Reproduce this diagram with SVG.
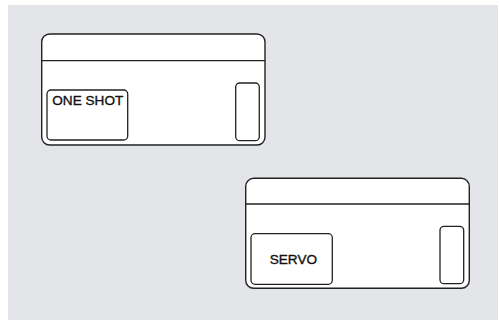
<svg xmlns="http://www.w3.org/2000/svg" width="499" height="320" viewBox="0 0 499 320">
<style>
.card{fill:#ffffff;stroke:#222;stroke-width:1.4}
.line{stroke:#222;stroke-width:1.3}
.box{fill:#ffffff;stroke:#222;stroke-width:1.3}
.lbl{font-family:"Liberation Sans",Arial,sans-serif;font-size:13.6px;fill:#111;stroke:#111;stroke-width:0.35}
</style>
<rect x="0" y="0" width="499" height="320" fill="#ffffff"/>
<rect x="8" y="5" width="490" height="315" fill="#e3e5e9"/>
<g id="card-oneshot">
<rect class="card" x="41.7" y="34" width="223.3" height="111" rx="8"/>
<line class="line" x1="41.7" y1="60.7" x2="265" y2="60.7"/>
<rect class="box" x="47" y="90" width="80.7" height="50" rx="4"/>
<text class="lbl" x="52.3" y="104.6">ONE SHOT</text>
<rect class="box" x="235.7" y="83" width="23.6" height="57.7" rx="4"/>
</g>
<g id="card-servo">
<rect class="card" x="245.7" y="178.3" width="223.6" height="110" rx="8"/>
<line class="line" x1="245.7" y1="204" x2="469.3" y2="204"/>
<rect class="box" x="251" y="233.7" width="81.3" height="50.6" rx="4"/>
<text class="lbl" x="269.7" y="264.3">SERVO</text>
<rect class="box" x="440" y="226.3" width="23.7" height="57.4" rx="4"/>
</g>
<g id="connectors"/>
</svg>
